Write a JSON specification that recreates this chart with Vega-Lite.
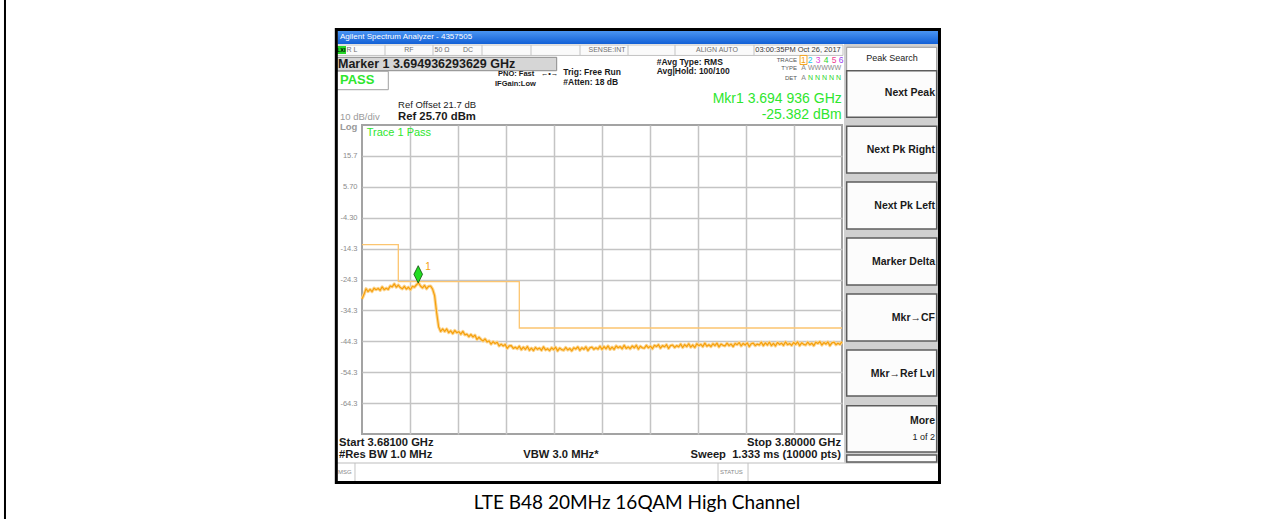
{
  "$schema": "https://vega.github.io/schema/vega-lite/v6.json",
  "width": 480,
  "height": 309,
  "autosize": {"type": "none"},
  "padding": {"left": 362, "top": 125, "right": 426, "bottom": 85},
  "background": "#ffffff",
  "config": {"view": {"stroke": "#a3a3a3", "strokeWidth": 2}},
  "encoding": {
    "x": {"field": "f", "type": "quantitative", "scale": {"domain": [3681, 3800], "nice": false, "zero": false},
          "axis": {"values": [3692.9, 3704.8, 3716.7, 3728.6, 3740.5, 3752.4, 3764.3, 3776.2, 3788.1], "labels": false, "ticks": false, "domain": false, "grid": true, "gridColor": "#c4c4c4", "gridWidth": 1.5, "title": null}},
    "y": {"field": "L", "type": "quantitative", "scale": {"domain": [-74.3, 25.7], "nice": false, "zero": false},
          "axis": {"values": [15.7, 5.7, -4.3, -14.3, -24.3, -34.3, -44.3, -54.3, -64.3], "ticks": false, "domain": false, "grid": true, "gridColor": "#c4c4c4", "gridWidth": 1.5, "labelColor": "#8c8c8c", "labelFontSize": 7.5, "labelFont": "Liberation Sans", "labelPadding": 5, "labelExpr": "replace(format(datum.value, '.3r'), '\u2212', '-')", "title": null}}
  },
  "layer": [
    {"data": {"values": [{"f": 3592.49, "L": 66.2, "L2": -101.9}]},
     "mark": {"type": "rule", "stroke": "#000000", "strokeWidth": 2},
     "encoding": {"y2": {"field": "L2"}}},
    {"data": {"values": [{"f": 3674.93, "f2": 3823.8, "L": 56.12, "L2": 51.91}]},
     "mark": {"type": "rect", "fill": {"gradient": "linear", "x1": 0, "y1": 0, "x2": 0, "y2": 1, "stops": [{"offset": 0, "color": "#4a95f3"}, {"offset": 1, "color": "#1260d6"}]}},
     "encoding": {"x2": {"field": "f2"}, "y2": {"field": "L2"}}},
    {"data": {"values": [{"f": 3674.8, "f2": 3800.25, "L": 51.59, "L2": 48.21}]},
     "mark": {"type": "rect", "fill": "#fafafa", "stroke": "#c2c2c2", "strokeWidth": 1},
     "encoding": {"x2": {"field": "f2"}, "y2": {"field": "L2"}}},
    {"data": {"values": [
      {"f": 3686.7, "L": 51.59, "L2": 48.21}, {"f": 3698.6, "L": 51.59, "L2": 48.21},
      {"f": 3710.75, "L": 51.59, "L2": 48.21}, {"f": 3722.9, "L": 51.59, "L2": 48.21},
      {"f": 3735.05, "L": 51.59, "L2": 48.21}, {"f": 3746.95, "L": 51.59, "L2": 48.21},
      {"f": 3758.6, "L": 51.59, "L2": 48.21}, {"f": 3778.18, "L": 51.59, "L2": 48.21},
      {"f": 3679.26, "L": -83.69, "L2": -89.51}, {"f": 3769.26, "L": -83.69, "L2": -89.51},
      {"f": 3776.7, "L": -83.69, "L2": -89.51}]},
     "mark": {"type": "rule", "stroke": "#c4c4c4", "strokeWidth": 1},
     "encoding": {"y2": {"field": "L2"}}},
    {"data": {"values": [{"f": 3674.8, "f2": 3823.8, "L": -83.69}]},
     "mark": {"type": "rule", "stroke": "#bdbdbd", "strokeWidth": 1},
     "encoding": {"x2": {"field": "f2"}}},
    {"data": {"values": [{"f": 3674.68, "f2": 3677.03, "L": 51.27, "L2": 48.68}]},
     "mark": {"type": "rect", "fill": "#27d627"},
     "encoding": {"x2": {"field": "f2"}, "y2": {"field": "L2"}}},
    {"data": {"values": [{"f": 3800.5, "f2": 3823.8, "L": 51.91, "L2": -83.69}]},
     "mark": {"type": "rect", "fill": "#d0d0d0"},
     "encoding": {"x2": {"field": "f2"}, "y2": {"field": "L2"}}},
    {"data": {"values": [{"f": 3801.16, "f2": 3823.47, "L": 50.85, "L2": 43.27}]},
     "mark": {"type": "rect", "fill": "#ffffff", "stroke": "#9a9a9a", "strokeWidth": 1},
     "encoding": {"x2": {"field": "f2"}, "y2": {"field": "L2"}}},
    {"data": {"values": [
      {"f": 3801.16, "f2": 3823.47, "L": 43.27, "L2": 28.19},
      {"f": 3801.16, "f2": 3823.47, "L": 25.28, "L2": 10.17},
      {"f": 3801.16, "f2": 3823.47, "L": 7.25, "L2": -7.96},
      {"f": 3801.16, "f2": 3823.47, "L": -10.87, "L2": -26.08},
      {"f": 3801.16, "f2": 3823.47, "L": -28.99, "L2": -44.2},
      {"f": 3801.16, "f2": 3823.47, "L": -47.12, "L2": -62.0},
      {"f": 3801.16, "f2": 3823.47, "L": -65.14, "L2": -80.13},
      {"f": 3801.16, "f2": 3823.47, "L": -81.1, "L2": -83.36}]},
     "mark": {"type": "rect", "fill": "#fcfcfc", "stroke": "#5c5c5c", "strokeWidth": 1.5},
     "encoding": {"x2": {"field": "f2"}, "y2": {"field": "L2"}}},
    {"data": {"values": [{"f": 3674.73, "f2": 3729.27, "L": 47.61, "L2": 43.27}]},
     "mark": {"type": "rect", "fill": "#d6d6d6", "stroke": "#8a8a8a", "strokeWidth": 1},
     "encoding": {"x2": {"field": "f2"}, "y2": {"field": "L2"}}},
    {"data": {"values": [{"f": 3674.73, "f2": 3687.52, "L": 43.08, "L2": 37.12}]},
     "mark": {"type": "rect", "fill": "#ffffff", "stroke": "#a0a0a0", "strokeWidth": 1},
     "encoding": {"x2": {"field": "f2"}, "y2": {"field": "L2"}}},
    {"data": {"values": [{"f": 3789.59, "f2": 3791.32, "L": 48.21, "L2": 45.28}]},
     "mark": {"type": "rect", "fillOpacity": 0, "stroke": "#f5a623", "strokeWidth": 1},
     "encoding": {"x2": {"field": "f2"}, "y2": {"field": "L2"}}},
    {"data": {"values": [{"f": 3674.63, "f2": 3824.17, "L": 56.61, "L2": -90.0}]},
     "mark": {"type": "rect", "fillOpacity": 0, "stroke": "#000000", "strokeWidth": 3},
     "encoding": {"x2": {"field": "f2"}, "y2": {"field": "L2"}}},
    {"data": {"values": [{"f": 3681, "L": -13}, {"f": 3690, "L": -25}, {"f": 3720, "L": -40}, {"f": 3800, "L": -40}]},
     "mark": {"type": "line", "interpolate": "step-after", "stroke": "#fcc570", "strokeWidth": 1.3},
     "encoding": {}},
    {"data": {"name": "trace", "values": [
      {"f": 3681, "L": -30.6}, {"f": 3681.5, "L": -29.1}, {"f": 3682, "L": -27.3}, {"f": 3682.5, "L": -28.2},
      {"f": 3683, "L": -27.5}, {"f": 3683.5, "L": -28.2}, {"f": 3684, "L": -27.1}, {"f": 3684.5, "L": -27.6},
      {"f": 3685, "L": -27.2}, {"f": 3685.5, "L": -27.8}, {"f": 3686, "L": -26.7}, {"f": 3686.5, "L": -27.6},
      {"f": 3687, "L": -27.1}, {"f": 3687.5, "L": -27.5}, {"f": 3688, "L": -26.4}, {"f": 3688.5, "L": -26.7},
      {"f": 3689, "L": -25.7}, {"f": 3689.5, "L": -26.8}, {"f": 3690, "L": -26.1}, {"f": 3690.5, "L": -26.9},
      {"f": 3691, "L": -27.3}, {"f": 3691.5, "L": -26.5}, {"f": 3692, "L": -27.4}, {"f": 3692.5, "L": -26.8},
      {"f": 3693, "L": -27.6}, {"f": 3693.5, "L": -26.5}, {"f": 3694, "L": -26.8}, {"f": 3694.5, "L": -26.0},
      {"f": 3695, "L": -25.4}, {"f": 3695.5, "L": -26.4}, {"f": 3696, "L": -27.0}, {"f": 3696.5, "L": -26.2},
      {"f": 3697, "L": -27.3}, {"f": 3697.5, "L": -26.5}, {"f": 3698, "L": -26.4}, {"f": 3698.5, "L": -27.4},
      {"f": 3699, "L": -29.5}, {"f": 3699.5, "L": -35.0}, {"f": 3700, "L": -39.6}, {"f": 3700.5, "L": -41.1},
      {"f": 3701, "L": -40.3}, {"f": 3701.5, "L": -41.1}, {"f": 3702, "L": -40.3}, {"f": 3702.5, "L": -41.5},
      {"f": 3703, "L": -40.9}, {"f": 3703.5, "L": -41.8}, {"f": 3704, "L": -40.8}, {"f": 3704.5, "L": -41.5},
      {"f": 3705, "L": -41.2}, {"f": 3705.5, "L": -42.0}, {"f": 3706, "L": -41.1}, {"f": 3706.5, "L": -42.2},
      {"f": 3707, "L": -42.0}, {"f": 3707.5, "L": -42.8}, {"f": 3708, "L": -42.1}, {"f": 3708.5, "L": -42.9},
      {"f": 3709, "L": -42.3}, {"f": 3709.5, "L": -43.7}, {"f": 3710, "L": -43.0}, {"f": 3710.5, "L": -43.7},
      {"f": 3711, "L": -44.2}, {"f": 3711.5, "L": -43.5}, {"f": 3712, "L": -44.5}, {"f": 3712.5, "L": -44.2},
      {"f": 3713, "L": -45.2}, {"f": 3713.5, "L": -44.4}, {"f": 3714, "L": -45.0}, {"f": 3714.5, "L": -44.6},
      {"f": 3715, "L": -45.8}, {"f": 3715.5, "L": -45.2}, {"f": 3716, "L": -45.8}, {"f": 3716.5, "L": -45.3},
      {"f": 3717, "L": -46.6}, {"f": 3717.5, "L": -45.8}, {"f": 3718, "L": -45.7}, {"f": 3718.5, "L": -46.6},
      {"f": 3719, "L": -46.2}, {"f": 3719.5, "L": -46.7}, {"f": 3720, "L": -45.9}, {"f": 3720.5, "L": -47.0},
      {"f": 3721, "L": -46.2}, {"f": 3721.5, "L": -46.9}, {"f": 3722, "L": -46.0}, {"f": 3722.5, "L": -47.2},
      {"f": 3723, "L": -46.5}, {"f": 3723.5, "L": -47.3}, {"f": 3724, "L": -46.3}, {"f": 3724.5, "L": -46.9},
      {"f": 3725, "L": -46.5}, {"f": 3725.5, "L": -47.2}, {"f": 3726, "L": -46.1}, {"f": 3726.5, "L": -47.1},
      {"f": 3727, "L": -46.7}, {"f": 3727.5, "L": -47.3}, {"f": 3728, "L": -46.4}, {"f": 3728.5, "L": -47.0},
      {"f": 3729, "L": -46.2}, {"f": 3729.5, "L": -47.4}, {"f": 3730, "L": -46.5}, {"f": 3730.5, "L": -47.0},
      {"f": 3731, "L": -47.2}, {"f": 3731.5, "L": -46.3}, {"f": 3732, "L": -47.1}, {"f": 3732.5, "L": -46.6},
      {"f": 3733, "L": -47.4}, {"f": 3733.5, "L": -46.4}, {"f": 3734, "L": -46.8}, {"f": 3734.5, "L": -46.1},
      {"f": 3735, "L": -47.2}, {"f": 3735.5, "L": -46.4}, {"f": 3736, "L": -46.9}, {"f": 3736.5, "L": -46.1},
      {"f": 3737, "L": -47.3}, {"f": 3737.5, "L": -46.4}, {"f": 3738, "L": -46.2}, {"f": 3738.5, "L": -46.9},
      {"f": 3739, "L": -46.4}, {"f": 3739.5, "L": -46.8}, {"f": 3740, "L": -45.9}, {"f": 3740.5, "L": -46.9},
      {"f": 3741, "L": -46.0}, {"f": 3741.5, "L": -46.7}, {"f": 3742, "L": -45.8}, {"f": 3742.5, "L": -46.9},
      {"f": 3743, "L": -46.2}, {"f": 3743.5, "L": -46.9}, {"f": 3744, "L": -45.8}, {"f": 3744.5, "L": -46.4},
      {"f": 3745, "L": -46.0}, {"f": 3745.5, "L": -46.7}, {"f": 3746, "L": -45.6}, {"f": 3746.5, "L": -46.6},
      {"f": 3747, "L": -46.1}, {"f": 3747.5, "L": -46.7}, {"f": 3748, "L": -45.8}, {"f": 3748.5, "L": -46.4},
      {"f": 3749, "L": -45.6}, {"f": 3749.5, "L": -46.8}, {"f": 3750, "L": -45.9}, {"f": 3750.5, "L": -46.4},
      {"f": 3751, "L": -46.5}, {"f": 3751.5, "L": -45.6}, {"f": 3752, "L": -46.4}, {"f": 3752.5, "L": -45.9},
      {"f": 3753, "L": -46.7}, {"f": 3753.5, "L": -45.6}, {"f": 3754, "L": -46.0}, {"f": 3754.5, "L": -45.4},
      {"f": 3755, "L": -46.5}, {"f": 3755.5, "L": -45.7}, {"f": 3756, "L": -46.1}, {"f": 3756.5, "L": -45.4},
      {"f": 3757, "L": -46.6}, {"f": 3757.5, "L": -45.7}, {"f": 3758, "L": -45.5}, {"f": 3758.5, "L": -46.3},
      {"f": 3759, "L": -45.7}, {"f": 3759.5, "L": -46.1}, {"f": 3760, "L": -45.2}, {"f": 3760.5, "L": -46.3},
      {"f": 3761, "L": -45.4}, {"f": 3761.5, "L": -46.0}, {"f": 3762, "L": -45.1}, {"f": 3762.5, "L": -46.2},
      {"f": 3763, "L": -45.5}, {"f": 3763.5, "L": -46.3}, {"f": 3764, "L": -45.1}, {"f": 3764.5, "L": -45.7},
      {"f": 3765, "L": -45.3}, {"f": 3765.5, "L": -46.0}, {"f": 3766, "L": -44.9}, {"f": 3766.5, "L": -45.9},
      {"f": 3767, "L": -45.4}, {"f": 3767.5, "L": -46.0}, {"f": 3768, "L": -45.1}, {"f": 3768.5, "L": -45.7},
      {"f": 3769, "L": -44.9}, {"f": 3769.5, "L": -46.1}, {"f": 3770, "L": -45.2}, {"f": 3770.5, "L": -45.6},
      {"f": 3771, "L": -45.8}, {"f": 3771.5, "L": -44.9}, {"f": 3772, "L": -45.7}, {"f": 3772.5, "L": -45.2},
      {"f": 3773, "L": -46.0}, {"f": 3773.5, "L": -45.0}, {"f": 3774, "L": -45.4}, {"f": 3774.5, "L": -44.7},
      {"f": 3775, "L": -45.8}, {"f": 3775.5, "L": -45.0}, {"f": 3776, "L": -45.5}, {"f": 3776.5, "L": -44.8},
      {"f": 3777, "L": -46.0}, {"f": 3777.5, "L": -45.1}, {"f": 3778, "L": -44.9}, {"f": 3778.5, "L": -45.7},
      {"f": 3779, "L": -45.2}, {"f": 3779.5, "L": -45.5}, {"f": 3780, "L": -44.6}, {"f": 3780.5, "L": -45.7},
      {"f": 3781, "L": -44.8}, {"f": 3781.5, "L": -45.5}, {"f": 3782, "L": -44.6}, {"f": 3782.5, "L": -45.7},
      {"f": 3783, "L": -45.0}, {"f": 3783.5, "L": -45.8}, {"f": 3784, "L": -44.7}, {"f": 3784.5, "L": -45.3},
      {"f": 3785, "L": -44.9}, {"f": 3785.5, "L": -45.6}, {"f": 3786, "L": -44.5}, {"f": 3786.5, "L": -45.4},
      {"f": 3787, "L": -45.0}, {"f": 3787.5, "L": -45.6}, {"f": 3788, "L": -44.7}, {"f": 3788.5, "L": -45.3},
      {"f": 3789, "L": -44.5}, {"f": 3789.5, "L": -45.7}, {"f": 3790, "L": -44.8}, {"f": 3790.5, "L": -45.3},
      {"f": 3791, "L": -45.5}, {"f": 3791.5, "L": -44.6}, {"f": 3792, "L": -45.4}, {"f": 3792.5, "L": -44.9},
      {"f": 3793, "L": -45.7}, {"f": 3793.5, "L": -44.6}, {"f": 3794, "L": -45.0}, {"f": 3794.5, "L": -44.4},
      {"f": 3795, "L": -45.5}, {"f": 3795.5, "L": -44.7}, {"f": 3796, "L": -45.2}, {"f": 3796.5, "L": -44.5},
      {"f": 3797, "L": -45.7}, {"f": 3797.5, "L": -44.8}, {"f": 3798, "L": -44.6}, {"f": 3798.5, "L": -45.4},
      {"f": 3799, "L": -44.9}, {"f": 3799.5, "L": -45.3}, {"f": 3800, "L": -44.4}]},
     "layer": [
       {"mark": {"type": "line", "stroke": "#fcd694", "strokeWidth": 3.2, "strokeJoin": "round"}, "encoding": {}},
       {"mark": {"type": "line", "stroke": "#f5a00c", "strokeWidth": 1.2, "strokeJoin": "round"}, "encoding": {}}
     ]},
    {"data": {"values": [{"f": 3694.936, "L": -25.382}]},
     "mark": {"type": "point", "shape": "M0,-1L0.5,0L0,1L-0.5,0Z", "size": 300, "filled": true, "fill": "#22dd22", "stroke": "#0d4a0d", "strokeWidth": 0.8, "opacity": 1, "yOffset": -8.5}},
    {"data": {"values": [{"t": "1", "f": 3696.7, "L": -20.2}]},
     "mark": {"type": "text", "align": "left", "baseline": "middle", "font": "Liberation Sans", "fontSize": 10, "color": "#f5a00c"},
     "encoding": {"text": {"field": "t"}}},
    {"data": {"values": [{"t": "Agilent Spectrum Analyzer - 4357505", "f": 3675.55, "L": 54.02}]},
     "mark": {"type": "text", "align": "left", "baseline": "middle", "font": "Liberation Sans", "fontSize": 8, "color": "#ffffff"},
     "encoding": {"text": {"field": "t"}}},
    {"data": {"values": [
      {"t": "R L", "f": 3678.52, "L": 49.97}, {"t": "RF", "f": 3692.65, "L": 49.97},
      {"t": "50 Ω", "f": 3700.83, "L": 49.97}, {"t": "DC", "f": 3707.28, "L": 49.97},
      {"t": "SENSE:INT", "f": 3741.74, "L": 49.97}, {"t": "ALIGN AUTO", "f": 3769.01, "L": 49.97}]},
     "mark": {"type": "text", "align": "center", "baseline": "middle", "font": "Liberation Sans", "fontSize": 7, "color": "#707070"},
     "encoding": {"text": {"field": "t"}}},
    {"data": {"values": [{"t": "03:00:35PM Oct 26, 2017", "f": 3789.09, "L": 49.97}]},
     "mark": {"type": "text", "align": "center", "baseline": "middle", "font": "Liberation Sans", "fontSize": 7.5, "color": "#3a3a3a"},
     "encoding": {"text": {"field": "t"}}},
    {"data": {"values": [{"t": "LXI", "f": 3675.85, "L": 49.97}]},
     "mark": {"type": "text", "align": "center", "baseline": "middle", "font": "Liberation Sans", "fontSize": 5.5, "fontWeight": "bold", "color": "#000000"},
     "encoding": {"text": {"field": "t"}}},
    {"data": {"values": [{"t": "Marker 1 3.694936293629 GHz", "f": 3675.05, "L": 45.44}]},
     "mark": {"type": "text", "align": "left", "baseline": "middle", "font": "Liberation Sans", "fontSize": 12.5, "fontWeight": "bold", "color": "#1c1c1c"},
     "encoding": {"text": {"field": "t"}}},
    {"data": {"values": [{"t": "PASS", "f": 3675.55, "L": 40.26}]},
     "mark": {"type": "text", "align": "left", "baseline": "middle", "font": "Liberation Sans", "fontSize": 13, "fontWeight": "bold", "color": "#2ee62e"},
     "encoding": {"text": {"field": "t"}}},
    {"data": {"values": [
      {"t": "Trig: Free Run", "f": 3730.91, "L": 42.85}, {"t": "#Atten: 18 dB", "f": 3730.91, "L": 39.62},
      {"t": "#Avg Type: RMS", "f": 3754.06, "L": 45.99}, {"t": "Avg|Hold: 100/100", "f": 3754.06, "L": 43.27}]},
     "mark": {"type": "text", "align": "left", "baseline": "middle", "font": "Liberation Sans", "fontSize": 8.5, "fontWeight": "bold", "color": "#1a1a1a"},
     "encoding": {"text": {"field": "t"}}},
    {"data": {"values": [
      {"t": "PNO: Fast", "f": 3714.72, "L": 42.2}, {"t": "IFGain:Low", "f": 3713.97, "L": 39.07}, {"t": "←•→", "f": 3725.3, "L": 42.2}]},
     "mark": {"type": "text", "align": "left", "baseline": "middle", "font": "Liberation Sans", "fontSize": 7.5, "fontWeight": "bold", "color": "#1a1a1a"},
     "encoding": {"text": {"field": "t"}}},
    {"data": {"values": [
      {"t": "TRACE", "f": 3788.84, "L": 46.66}, {"t": "TYPE", "f": 3788.84, "L": 44.24}, {"t": "DET", "f": 3788.84, "L": 41.01}]},
     "mark": {"type": "text", "align": "right", "baseline": "middle", "font": "Liberation Sans", "fontSize": 6, "color": "#555555"},
     "encoding": {"text": {"field": "t"}}},
    {"data": {"values": [
      {"t": "1", "f": 3790.45, "L": 46.66}, {"t": "2", "f": 3792.07, "L": 46.66}, {"t": "3", "f": 3794.05, "L": 46.66},
      {"t": "4", "f": 3796.03, "L": 46.66}, {"t": "5", "f": 3798.02, "L": 46.66}, {"t": "6", "f": 3799.75, "L": 46.66}]},
     "mark": {"type": "text", "align": "center", "baseline": "middle", "font": "Liberation Sans", "fontSize": 8.5},
     "encoding": {"text": {"field": "t"},
       "color": {"field": "t", "type": "nominal", "legend": null,
                 "scale": {"domain": ["1", "2", "3", "4", "5", "6"], "range": ["#f5a00c", "#22c8f0", "#e040e0", "#2bd52b", "#f04090", "#9a40f0"]}}}},
    {"data": {"values": [
      {"t": "A", "f": 3789.9, "L": 44.24}, {"t": "WWWWW", "f": 3791.57, "L": 44.24}, {"t": "A", "f": 3789.9, "L": 41.01}]},
     "mark": {"type": "text", "align": "left", "baseline": "middle", "font": "Liberation Sans", "fontSize": 7, "color": "#8a8a8a"},
     "encoding": {"text": {"field": "t"}}},
    {"data": {"values": [{"t": "N N N N N", "f": 3791.57, "L": 41.01}]},
     "mark": {"type": "text", "align": "left", "baseline": "middle", "font": "Liberation Sans", "fontSize": 7, "color": "#2bd52b"},
     "encoding": {"text": {"field": "t"}}},
    {"data": {"values": [
      {"t": "Mkr1 3.694 936 GHz", "f": 3799.95, "L": 34.11}, {"t": "-25.382 dBm", "f": 3799.95, "L": 28.94}]},
     "mark": {"type": "text", "align": "right", "baseline": "middle", "font": "Liberation Sans", "fontSize": 14, "color": "#2ee62e"},
     "encoding": {"text": {"field": "t"}}},
    {"data": {"values": [{"t": "Ref Offset 21.7 dB", "f": 3689.93, "L": 32.17}]},
     "mark": {"type": "text", "align": "left", "baseline": "middle", "font": "Liberation Sans", "fontSize": 9.5, "color": "#1a1a1a"},
     "encoding": {"text": {"field": "t"}}},
    {"data": {"values": [{"t": "Ref 25.70 dBm", "f": 3689.93, "L": 28.39}]},
     "mark": {"type": "text", "align": "left", "baseline": "middle", "font": "Liberation Sans", "fontSize": 11.3, "fontWeight": "bold", "color": "#1a1a1a"},
     "encoding": {"text": {"field": "t"}}},
    {"data": {"values": [{"t": "10 dB/div", "f": 3675.55, "L": 28.3}]},
     "mark": {"type": "text", "align": "left", "baseline": "middle", "font": "Liberation Sans", "fontSize": 9.5, "color": "#9a9a9a"},
     "encoding": {"text": {"field": "t"}}},
    {"data": {"values": [{"t": "Log", "f": 3675.55, "L": 25.05}]},
     "mark": {"type": "text", "align": "left", "baseline": "middle", "font": "Liberation Sans", "fontSize": 9.5, "fontWeight": "bold", "color": "#9a9a9a"},
     "encoding": {"text": {"field": "t"}}},
    {"data": {"values": [{"t": "Trace 1 Pass", "f": 3682.17, "L": 23.01}]},
     "mark": {"type": "text", "align": "left", "baseline": "middle", "font": "Liberation Sans", "fontSize": 11, "color": "#2ee62e"},
     "encoding": {"text": {"field": "t"}}},
    {"data": {"values": [
      {"t": "Start 3.68100 GHz", "f": 3675.3, "L": -77.12}, {"t": "#Res BW 1.0 MHz", "f": 3675.3, "L": -81.1},
      {"t": "VBW 3.0 MHz*", "f": 3720.99, "L": -81.1}]},
     "mark": {"type": "text", "align": "left", "baseline": "middle", "font": "Liberation Sans", "fontSize": 11.2, "fontWeight": "bold", "color": "#1a1a1a"},
     "encoding": {"text": {"field": "t"}}},
    {"data": {"values": [
      {"t": "Stop 3.80000 GHz", "f": 3799.75, "L": -77.12}, {"t": "Sweep\u00a0 1.333 ms (10000 pts)", "f": 3799.75, "L": -81.1}]},
     "mark": {"type": "text", "align": "right", "baseline": "middle", "font": "Liberation Sans", "fontSize": 11.2, "fontWeight": "bold", "color": "#1a1a1a"},
     "encoding": {"text": {"field": "t"}}},
    {"data": {"values": [{"t": "MSG", "f": 3675.05, "L": -86.6}, {"t": "STATUS", "f": 3769.76, "L": -86.6}]},
     "mark": {"type": "text", "align": "left", "baseline": "middle", "font": "Liberation Sans", "fontSize": 6, "color": "#8a8a8a"},
     "encoding": {"text": {"field": "t"}}},
    {"data": {"values": [
      {"t": "Next Peak", "f": 3823.06, "L": 35.99}, {"t": "Next Pk Right", "f": 3823.06, "L": 17.61},
      {"t": "Next Pk Left", "f": 3823.06, "L": -0.51}, {"t": "Marker Delta", "f": 3823.06, "L": -18.64},
      {"t": "Mkr→CF", "f": 3823.06, "L": -36.76}, {"t": "Mkr→Ref Lvl", "f": 3823.06, "L": -54.88},
      {"t": "More", "f": 3823.06, "L": -70.09}]},
     "mark": {"type": "text", "align": "right", "baseline": "middle", "font": "Liberation Sans", "fontSize": 10.5, "fontWeight": "bold", "color": "#1a1a1a"},
     "encoding": {"text": {"field": "t"}}},
    {"data": {"values": [{"t": "1 of 2", "f": 3823.06, "L": -75.27}]},
     "mark": {"type": "text", "align": "right", "baseline": "middle", "font": "Liberation Sans", "fontSize": 9, "color": "#1a1a1a"},
     "encoding": {"text": {"field": "t"}}},
    {"data": {"values": [{"t": "Peak Search", "f": 3812.4, "L": 47.38}]},
     "mark": {"type": "text", "align": "center", "baseline": "middle", "font": "Liberation Sans", "fontSize": 9, "color": "#1a1a1a"},
     "encoding": {"text": {"field": "t"}}},
    {"data": {"values": [{"t": "LTE B48 20MHz 16QAM High Channel", "f": 3749.18, "L": -96.63}]},
     "mark": {"type": "text", "align": "center", "baseline": "middle", "font": "Lato", "fontSize": 19, "color": "#000000"},
     "encoding": {"text": {"field": "t"}}}
  ]
}
